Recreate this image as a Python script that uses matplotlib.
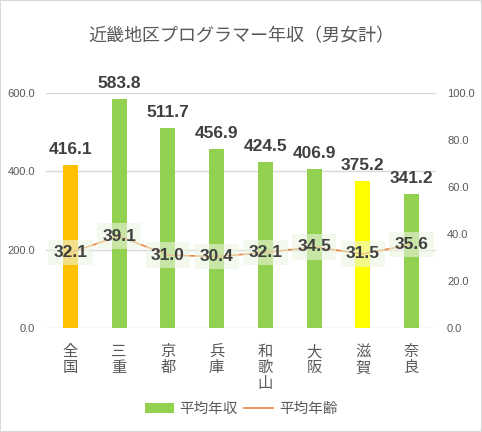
import matplotlib
matplotlib.use("Agg")
import matplotlib.pyplot as plt
from matplotlib.patches import Patch, Rectangle
from matplotlib.lines import Line2D

plt.rcParams['font.family'] = ['Noto Sans CJK JP', 'DejaVu Sans']

categories = ["全国", "三重", "京都", "兵庫", "和歌山", "大阪", "滋賀", "奈良"]
income = [416.1, 583.8, 511.7, 456.9, 424.5, 406.9, 375.2, 341.2]
age = [32.1, 39.1, 31.0, 30.4, 32.1, 34.5, 31.5, 35.6]
bar_colors = ["#FFC000", "#92D050", "#92D050", "#92D050", "#92D050", "#92D050", "#FFFF00", "#92D050"]
left_ticks = [0, 200, 400, 600]
right_ticks = [0, 20, 40, 60, 80, 100]

fig = plt.figure(figsize=(4.82, 4.32), dpi=100)
ax = fig.add_axes([46/482, (432-328)/432, 390/482, (328-93)/432])
ax2 = ax.twinx()

num_font = ['Liberation Sans', 'DejaVu Sans']

x = list(range(len(categories)))
ax.bar(x, income, width=0.31, color=bar_colors, zorder=2)
for xi, v in zip(x, income):
    ax.text(xi, v + 28, f"{v:.1f}", ha='center', va='baseline', fontsize=12.5,
            fontweight='bold', color='#404040', family=num_font)

ax.set_xlim(-0.5, len(categories) - 0.5)
ax.set_ylim(0, 600)
ax.set_yticks(left_ticks)
ax.set_yticklabels([f"{t:.1f}" for t in left_ticks])
ax.grid(axis='y', color='#D9D9D9', linewidth=1, zorder=0)
ax.set_axisbelow(True)
ax.set_xticks(x)
ax.set_xticklabels(["\n".join(c) for c in categories], fontsize=11, color='#595959',
                   linespacing=0.92, va='top')
ax.tick_params(axis='x', length=0, pad=11)
ax.tick_params(axis='y', length=0, labelsize=8, labelcolor='#595959', pad=8)
for lbl in ax.get_yticklabels():
    lbl.set_family(num_font)
for s in ax.spines.values():
    s.set_visible(False)

ax2.plot(x, age, color='#ED7D31', linewidth=1.1, zorder=3)
for xi, v in zip(x, age):
    ax2.text(xi, v, f"{v:.1f}", ha='center', va='center', fontsize=12.5,
             fontweight='bold', color='#404040', family=num_font, zorder=4,
             bbox=dict(boxstyle='square,pad=0.3', facecolor='#EBF5E1', alpha=0.6,
                       edgecolor='none'))
ax2.set_ylim(0, 100)
ax2.set_yticks(right_ticks)
ax2.set_yticklabels([f"{t:.1f}" for t in right_ticks])
ax2.tick_params(axis='y', length=0, labelsize=8, labelcolor='#595959', pad=8)
for lbl in ax2.get_yticklabels():
    lbl.set_family(num_font)
for s in ax2.spines.values():
    s.set_visible(False)

fig.text(0.5, 1 - 36/432, "近畿地区プログラマー年収（男女計）", ha='center', va='center',
         fontsize=13, color='#595959')

handles = [Patch(facecolor='#92D050', edgecolor='none'),
           Line2D([0], [0], color='#ED7D31', linewidth=1.1)]
fig.legend(handles, ["平均年収", "平均年齢"], loc='center', bbox_to_anchor=(0.5, 1 - 409/432),
           ncol=2, frameon=False, fontsize=10.5, labelcolor='#595959',
           handlelength=2.0, handletextpad=0.4, columnspacing=0.4)

fig.patches.append(Rectangle((0, 0), 1, 1, transform=fig.transFigure, fill=False,
                             edgecolor='#D9D9D9', linewidth=1.5))

fig.savefig("out.png", dpi=100, facecolor='white')
